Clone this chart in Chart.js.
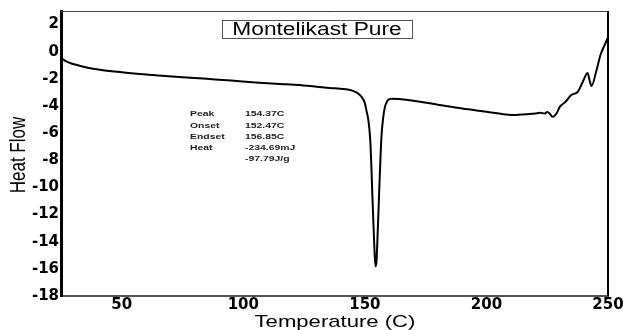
<!DOCTYPE html>
<html>
<head>
<meta charset="utf-8">
<script src="https://cdn.jsdelivr.net/npm/chart.js@4.4.0/dist/chart.umd.min.js"></script>
<style>
  body { margin: 0; background: #fff; }
  #wrap { width: 627px; height: 330px; }
</style>
</head>
<body>
<div id="wrap"><canvas id="dsc" width="627" height="330"></canvas></div>
<script>
// temperature (C) and heat flow
const temps = [25, 27, 29, 32, 36, 41, 48, 55, 65, 75, 85, 95, 105, 115, 123, 131, 138, 144, 146.5, 148.5,
    150, 150.6, 151.4, 151.9, 152.3, 152.7, 153.1, 153.8, 154.35, 154.7, 155.0, 155.8, 156.8, 157.5, 158.2, 158.9, 159.5,
    161, 164, 170, 180, 190, 200, 208, 212, 216, 220, 222, 224, 225, 226, 227.2,
    229, 230.1, 232.5, 234.9, 237.5, 239.6, 241.6, 242.4, 243.2, 245.3, 246.9, 248.6, 250];
const heatFlow = [-0.45, -0.7, -0.85, -1.0, -1.18, -1.33, -1.48, -1.6, -1.75, -1.88, -2.0, -2.12, -2.26, -2.37, -2.45, -2.6, -2.7, -2.82, -3.0, -3.3,
    -3.8, -4.3, -5.0, -5.8, -6.8, -8.6, -10.7, -14.0, -15.8, -15.6, -14.6, -10.7, -6.3, -4.9, -4.1, -3.75, -3.55,
    -3.47, -3.48, -3.62, -3.9, -4.18, -4.42, -4.62, -4.66, -4.6, -4.55, -4.5, -4.55, -4.45, -4.55, -4.8,
    -4.5, -4.08, -3.7, -3.19, -2.97, -2.23, -1.57, -2.09, -2.53, -1.35, -0.24, 0.49, 1.05];

const xTicks = [50, 100, 150, 200, 250];
const yTicks = [2, 0, -2, -4, -6, -8, -10, -12, -14, -16, -18];

const noteLabels = ['Peak', 'Onset', 'Endset', 'Heat', ''];
const noteValues = ['154.37C', '152.47C', '156.85C', '-234.69mJ', '-97.79J/g'];

const titleText = 'Montelikast Pure';
const xTitle = 'Temperature (C)';
const yTitle = 'Heat Flow';

const SX = 1.3; // the original text is stretched sideways

function stretchedText(ctx, text, x, y, font, align, color) {
    ctx.save();
    ctx.font = font;
    ctx.fillStyle = color;
    ctx.textBaseline = 'middle';
    ctx.textAlign = align;
    ctx.translate(x, y);
    ctx.scale(SX, 1);
    ctx.fillText(text, 0, 0);
    ctx.restore();
}

const decor = {
    id: 'decor',
    afterDraw(chart) {
        const ctx = chart.ctx;
        const a = chart.chartArea;
        // top and right frame
        ctx.save();
        ctx.strokeStyle = '#444';
        ctx.lineWidth = 1;
        ctx.beginPath();
        ctx.moveTo(a.left, a.top + 0.5);
        ctx.lineTo(a.right, a.top + 0.5);
        ctx.stroke();
        ctx.strokeStyle = '#000';
        ctx.lineWidth = 2;
        ctx.beginPath();
        ctx.moveTo(a.right, a.top);
        ctx.lineTo(a.right, a.bottom);
        ctx.stroke();
        ctx.restore();

        // title box
        ctx.save();
        ctx.fillStyle = '#fff';
        ctx.fillRect(222, 20, 190, 18);
        ctx.strokeStyle = '#555';
        ctx.lineWidth = 1;
        ctx.strokeRect(222.5, 20.5, 190, 18);
        ctx.restore();
        stretchedText(ctx, titleText, 317, 30, '17.5px "Liberation Sans", Arial', 'center', '#000');

        // peak annotation
        for (let i = 0; i < noteLabels.length; i++) {
            const y = 114 + i * 11.3;
            stretchedText(ctx, noteLabels[i], 190, y, 'bold 8px "Liberation Sans", Arial', 'left', '#222');
            stretchedText(ctx, noteValues[i], 245, y, 'bold 8px "Liberation Sans", Arial', 'left', '#222');
        }

        // axis titles
        stretchedText(ctx, xTitle, 335, 322, '17px "Liberation Sans", Arial', 'center', '#000');
        ctx.save();
        ctx.translate(19, 155);
        ctx.scale(SX, 1);
        ctx.rotate(-Math.PI / 2);
        ctx.font = '17px "Liberation Sans", Arial';
        ctx.fillStyle = '#000';
        ctx.textAlign = 'center';
        ctx.textBaseline = 'middle';
        ctx.fillText(yTitle, 0, 0);
        ctx.restore();
    }
};

const ctx = document.getElementById('dsc');

new Chart(ctx, {
    type: 'line',
    data: {
        datasets: [{
            label: 'Montelikast Pure',
            data: temps.map((t, i) => ({x: t, y: heatFlow[i]})),
            borderColor: '#000',
            borderWidth: 2,
            pointRadius: 0,
            fill: false,
            cubicInterpolationMode: 'monotone'
        }]
    },
    options: {
        responsive: false,
        animation: false,
        layout: {padding: {left: 0, top: 11, right: 19, bottom: 0}},
        plugins: {legend: {display: false}, tooltip: {enabled: false}},
        scales: {
            x: {
                type: 'linear',
                min: 25,
                max: 250,
                afterBuildTicks: (s) => { s.ticks = xTicks.map(v => ({value: v})); },
                afterFit: (s) => { s.height = 34; },
                grid: {display: false, drawTicks: false},
                border: {display: true, color: '#555', width: 2},
                ticks: {
                    padding: 0,
                    color: '#000',
                    font: {family: '"DejaVu Sans"', weight: 'bold', size: 15}
                }
            },
            y: {
                min: -18,
                max: 3,
                afterBuildTicks: (s) => { s.ticks = yTicks.map(v => ({value: v})); },
                afterFit: (s) => { s.width = 61; },
                grid: {display: false, drawTicks: false},
                border: {display: true, color: '#000', width: 3},
                ticks: {
                    padding: 2,
                    color: '#000',
                    font: {family: '"DejaVu Sans"', weight: 'bold', size: 15}
                }
            }
        }
    },
    plugins: [decor]
});
</script>
</body>
</html>
